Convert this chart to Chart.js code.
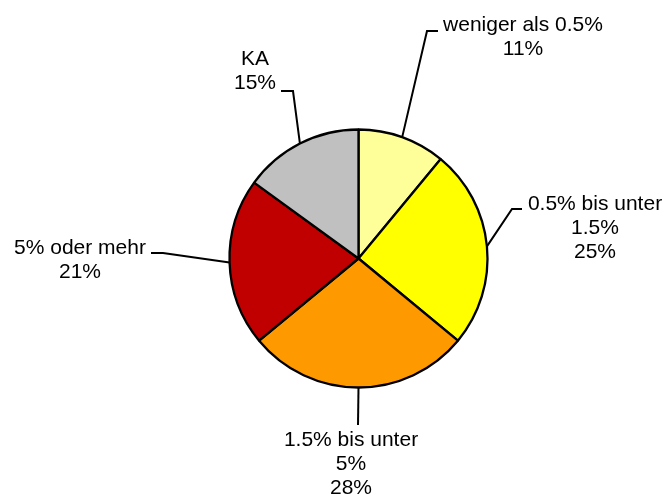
<!DOCTYPE html>
<html>
<head>
<style>
    body { margin: 0; background: #fff; }
</style>
</head>
<body>
    <canvas id="myChart" width="665" height="495"></canvas>
    <script src="https://cdn.jsdelivr.net/npm/chart.js"></script>

    <script>
        const categories = [
            ['weniger als 0.5%'],
            ['0.5% bis unter', '1.5%'],
            ['1.5% bis unter', '5%'],
            ['5% oder mehr'],
            ['KA']
        ]
        const shares = [11, 25, 28, 21, 15]
        const colors = ['#FFFF99', '#FFFF00', '#FF9900', '#C00000', '#C0C0C0']

        // where each label sits and how its leader line bends (text center x, first line y, bend points)
        const labelLayout = [
            { x: 523, y: 25, bend: [[427, 31], [438, 31]] },
            { x: 595, y: 204, bend: [[512, 209], [522, 209]] },
            { x: 351, y: 440, bend: [[358, 425]] },
            { x: 80, y: 248, bend: [[163, 253], [151, 253]] },
            { x: 255, y: 59, bend: [[293, 91], [281, 91]] }
        ]

        const leaderLabels = {
            id: 'leaderLabels',
            afterDraw(chart) {
                const ctx = chart.ctx
                const arcs = chart.getDatasetMeta(0).data
                ctx.save()
                arcs.forEach((arc, i) => {
                    const p = arc.getProps(['x', 'y', 'startAngle', 'endAngle', 'outerRadius'], true)
                    const mid = (p.startAngle + p.endAngle) / 2
                    const sx = p.x + Math.cos(mid) * p.outerRadius
                    const sy = p.y + Math.sin(mid) * p.outerRadius
                    const lay = labelLayout[i]

                    ctx.beginPath()
                    ctx.moveTo(sx, sy)
                    lay.bend.forEach(pt => ctx.lineTo(pt[0], pt[1]))
                    ctx.strokeStyle = '#000'
                    ctx.lineWidth = 2
                    ctx.stroke()

                    const lines = categories[i].concat([shares[i] + '%'])
                    ctx.fillStyle = '#000'
                    ctx.font = '21px "Liberation Sans", Arial, sans-serif'
                    ctx.textAlign = 'center'
                    ctx.textBaseline = 'middle'
                    lines.forEach((t, k) => ctx.fillText(t, lay.x, lay.y + k * 24))
                })
                ctx.restore()
            }
        }

        const canvas = document.getElementById('myChart').getContext('2d')
        const chart = new Chart(canvas, {
            type: 'pie',
            data: {
                labels: categories.map(c => c.join(' ')),
                datasets: [{
                    data: shares,
                    backgroundColor: colors,
                    borderColor: '#000',
                    borderWidth: 2.3
                }]
            },
            options: {
                responsive: false,
                animation: false,
                radius: 129,
                layout: { padding: { left: 200, right: 148, top: 120, bottom: 98 } },
                plugins: {
                    legend: { display: false },
                    tooltip: { enabled: false }
                }
            },
            plugins: [leaderLabels]
        })
    </script>
</body>
</html>
